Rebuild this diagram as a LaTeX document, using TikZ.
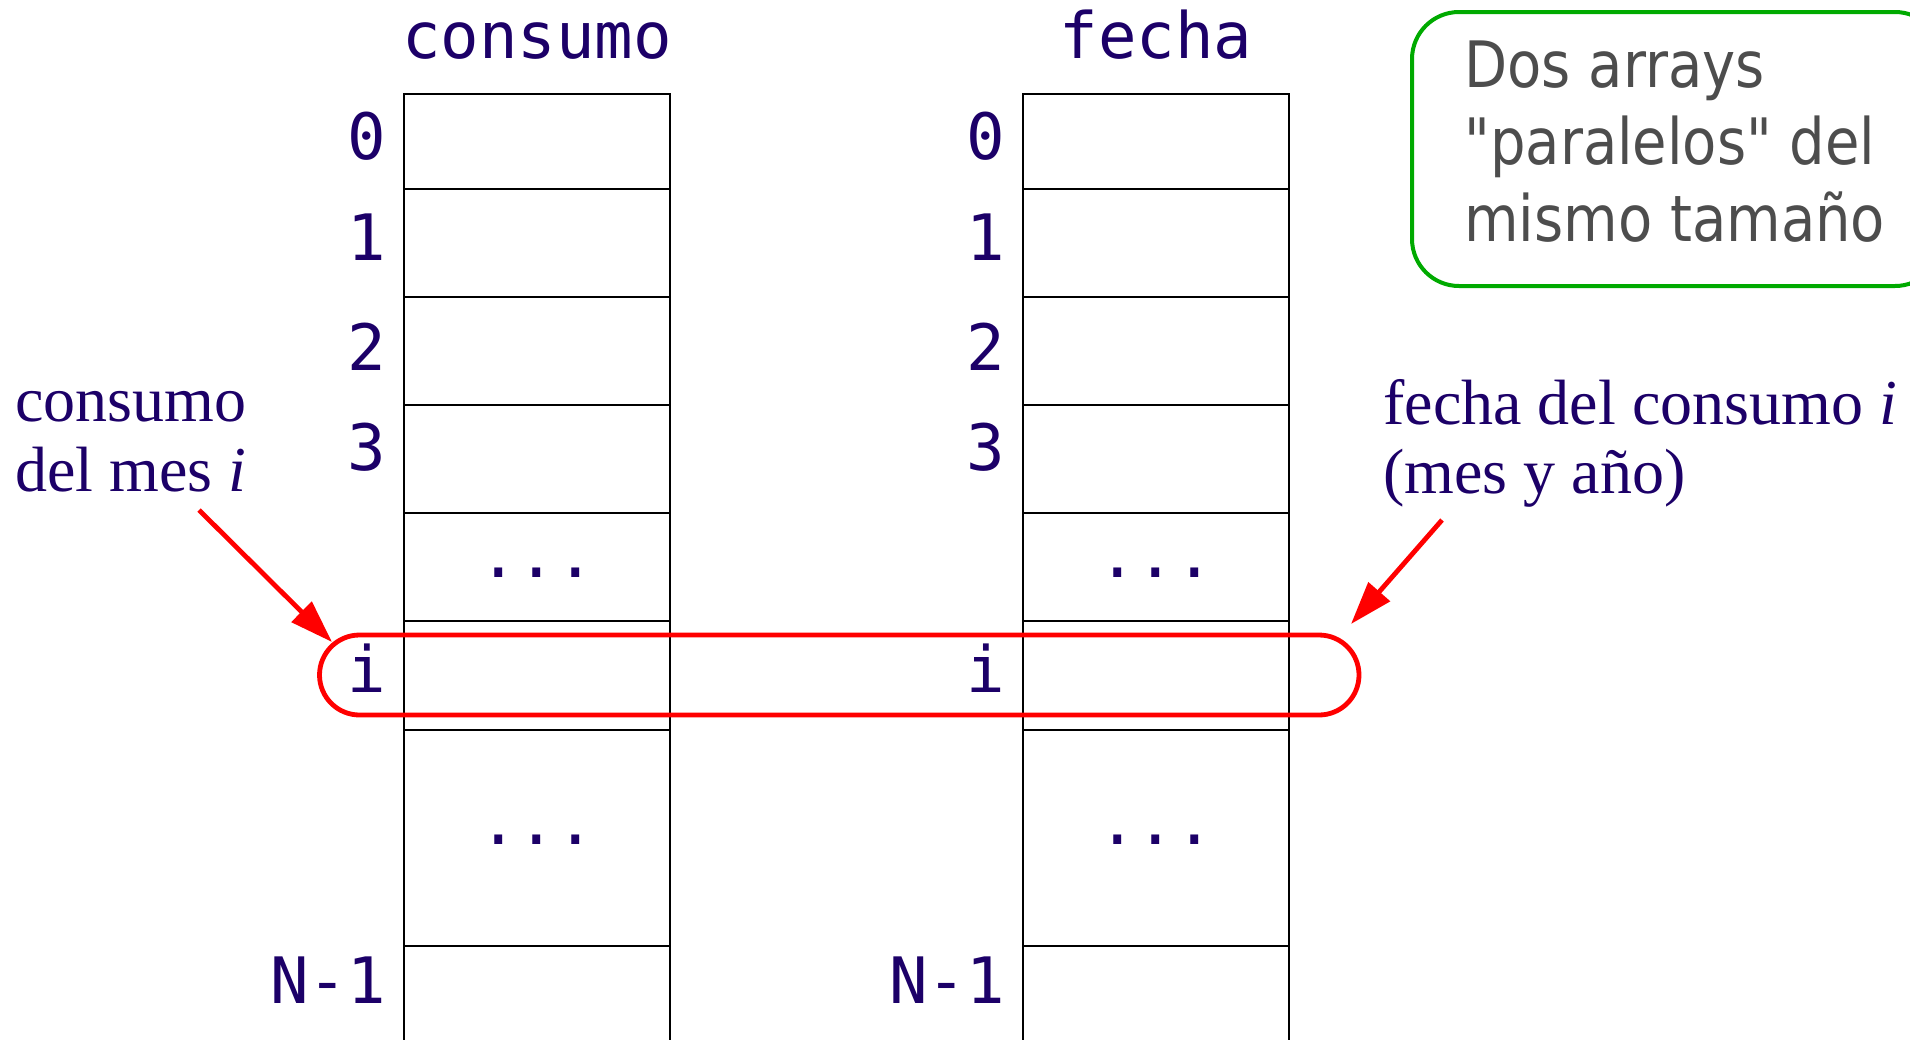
\documentclass[tikz,border=0pt]{standalone}
\usepackage{fontspec}
\setmainfont{Liberation Serif}
\setmonofont{DejaVu Sans Mono}
\newfontfamily\notefont[FakeStretch=0.875]{DejaVu Sans}
\usetikzlibrary{arrows.meta}
\definecolor{ink}{RGB}{28,0,104}
\definecolor{notegray}{RGB}{77,77,77}
\definecolor{notegreen}{RGB}{0,170,0}

\begin{document}
\begin{tikzpicture}[x=0.5pt,y=-0.5pt,
  code/.style={font=\fontsize{32}{38}\selectfont\ttfamily, text=ink, inner sep=0pt},
  idx/.style={code, anchor=base east},
  head/.style={code, anchor=base},
  cellline/.style={line width=0.85pt, black},
  prose/.style={font=\fontsize{32}{35}\selectfont, text=ink, inner sep=0pt, anchor=base west},
  notetext/.style={font=\fontsize{32}{38}\notefont, text=notegray, inner sep=0pt, anchor=base west},
  notebox/.style={draw=notegreen, line width=2pt, rounded corners=23.5pt, inner sep=0pt},
  selbox/.style={draw=red, line width=2.4pt, rounded corners=20pt, inner sep=0pt},
  pointer/.style={red, line width=2.4pt, -{Triangle[length=21.5pt,width=14pt]}},
]
\useasboundingbox (0,0) rectangle (1910,1039);
\clip (0,0) rectangle (1910,1039);

% the two parallel arrays
\foreach \c/\title/\dx in {a/consumo/0, b/fecha/619}{
  \node[head] (\c-title) at (537+\dx,58) {\title};
  \draw[cellline] (404+\dx,1045) -- (404+\dx,94) -- (670+\dx,94) -- (670+\dx,1045);
  \foreach \y in {189,297,405,513,621,730,946}
    \draw[cellline] (404+\dx,\y) -- (670+\dx,\y);
  \foreach \lab/\y in {0/159,1/260,2/370,3/470,i/692,N-1/1003}
    \node[idx] (\c-\lab) at (386+\dx,\y) {\lab};
  \node[head] (\c-dotsA) at (537+\dx,577) {...};
  \node[head] (\c-dotsB) at (537+\dx,844) {...};
}

% row i of both arrays
\node[selbox, minimum width=519.75pt, minimum height=40pt] (sel) at (839.25,675) {};

% explanations
\node[prose] (lblA1) at (15,421) {consumo};
\node[prose] (lblA2) at (15,491) {del mes \textit{i}};
\node[prose] (lblB1) at (1383,424) {fecha del consumo \textit{i}};
\node[prose] (lblB2) at (1383,493) {(mes y año)};

\coordinate (tailL) at (199,510);
\coordinate (tipL) at (332,642);
\coordinate (tailR) at (1442,520);
\coordinate (tipR) at (1351,624);
\draw[pointer] (tailL) -- (tipL);
\draw[pointer] (tailR) -- (tipR);

% note
\node[notebox, minimum width=265pt, minimum height=137pt, anchor=north west] (note) at (1410,10) {};
\node[notetext] (note1) at (1464,87) {Dos arrays};
\node[notetext] (note2) at (1464,164) {"paralelos" del};
\node[notetext] (note3) at (1464,241) {mismo tamaño};
\end{tikzpicture}
\end{document}
